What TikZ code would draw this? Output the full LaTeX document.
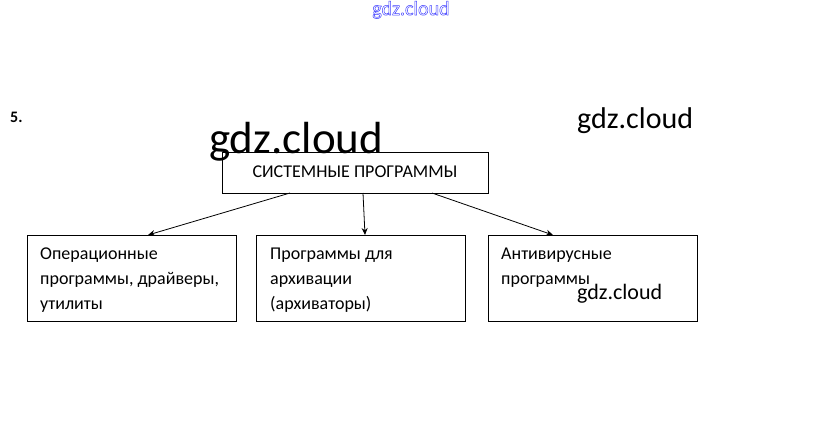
\documentclass[tikz,border=0pt]{standalone}
\usepackage{fontspec}
\setmainfont{Carlito}
\usetikzlibrary{arrows.meta}
\newcommand{\outlinetext}[1]{\special{pdf:literal direct 1 Tr 0.5 w}#1\special{pdf:literal direct 0 Tr}}
\begin{document}
\begin{tikzpicture}[x=1pt,y=-1pt,
  box/.style={draw,line width=0.9pt,rectangle,minimum width=209pt,minimum height=86pt,anchor=north west,inner sep=0pt},
  txt/.style={anchor=north west,align=left,font=\fontsize{18}{25}\selectfont,inner sep=0pt},
  conn/.style={line width=0.8pt,-{Stealth[length=7pt,width=6pt]}},
  wm/.style={font=\fontsize{#1}{#1}\selectfont,inner sep=0pt}]
\useasboundingbox (0,0) rectangle (823,424);
\node[wm=20,text=blue!75!white,anchor=north] (wtop) at (411,1) {\outlinetext{gdz.cloud}};
\node[font=\bfseries\fontsize{16}{16}\selectfont,anchor=west,inner sep=0pt] (num) at (10,117) {5.};
\node[wm=30,anchor=west] (wr) at (577,121) {gdz.cloud};
\node[draw,line width=0.9pt,minimum width=266pt,minimum height=41pt,anchor=north west,inner sep=0pt] (top) at (222,152) {};
\node[font=\fontsize{18}{18}\selectfont,inner sep=0pt] (toptxt) at (355,172) {СИСТЕМНЫЕ ПРОГРАММЫ};
\node[wm=45,anchor=west] (wbig) at (209,142) {gdz.cloud};
\node[box] (b1) at (27,235) {};
\node[box] (b2) at (256,235) {};
\node[box] (b3) at (488,235) {};
\node[txt] (t1) at (40,248) {Операционные\\программы, драйверы,\\утилиты};
\node[txt] (t2) at (270,248) {Программы для\\архивации\\(архиваторы)};
\node[txt] (t3) at (501,248) {Антивирусные\\программы};
\node[wm=22,anchor=west] (wb) at (577,294) {gdz.cloud};
\coordinate (s1) at (290,193); \coordinate (e1) at (148,235);
\coordinate (s2) at (363,193); \coordinate (e2) at (365,235);
\coordinate (s3) at (432,193); \coordinate (e3) at (553,235);
\draw[conn] (s1) -- (e1);
\draw[conn] (s2) -- (e2);
\draw[conn] (s3) -- (e3);
\end{tikzpicture}
\end{document}
